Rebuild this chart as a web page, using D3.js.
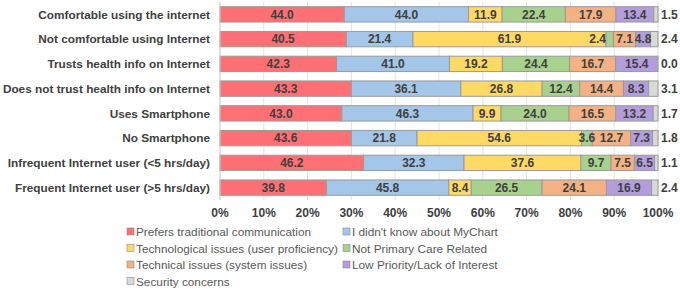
<!DOCTYPE html>
<html>
<head>
<meta charset="utf-8">
<script src="https://cdn.jsdelivr.net/npm/d3@7"></script>
<style>
  body { margin: 0; background: #fff; }
  svg text { font-family: "Liberation Sans", Arial, sans-serif; }
</style>
</head>
<body>
<div id="chart"></div>
<script>
// Data
const groups = [
    'Comfortable using the internet',
    'Not comfortable using Internet',
    'Trusts health info on Internet',
    'Does not trust health info on Internet',
    'Uses Smartphone',
    'No Smartphone',
    'Infrequent Internet user (<5 hrs/day)',
    'Frequent Internet user (>5 hrs/day)'
];
const reasons = [
    'Prefers traditional communication',
    "I didn't know about MyChart",
    'Technological issues (user proficiency)',
    'Not Primary Care Related',
    'Technical issues (system issues)',
    'Low Priority/Lack of Interest',
    'Security concerns'
];
const prefersTraditional = [44.0, 40.5, 42.3, 43.3, 43.0, 43.6, 46.2, 39.8];
const didntKnow          = [44.0, 21.4, 41.0, 36.1, 46.3, 21.8, 32.3, 45.8];
const techUser           = [11.9, 61.9, 19.2, 26.8, 9.9, 54.6, 37.6, 8.4];
const notPrimaryCare     = [22.4, 2.4, 24.4, 12.4, 24.0, 3.6, 9.7, 26.5];
const techSystem         = [17.9, 7.1, 16.7, 14.4, 16.5, 12.7, 7.5, 24.1];
const lowPriority        = [13.4, 4.8, 15.4, 8.3, 13.2, 7.3, 6.5, 16.9];
const security           = [1.5, 2.4, 0.0, 3.1, 1.7, 1.8, 1.1, 2.4];
const xTicks = [0, 0.1, 0.2, 0.3, 0.4, 0.5, 0.6, 0.7, 0.8, 0.9, 1];

const series = [prefersTraditional, didntKnow, techUser, notPrimaryCare, techSystem, lowPriority, security];
const colors = ['#FF7074', '#A4C6E8', '#FFD966', '#A9D18E', '#F4B183', '#B39DDB', '#D9D9D9'];

const width = 680, height = 293;
const margin = {top: 2, right: 22, bottom: 93, left: 220};

const svg = d3.select('#chart')
    .append('svg')
    .attr('width', width)
    .attr('height', height);

const x = d3.scaleLinear()
    .domain([0, 1])
    .range([margin.left, width - margin.right]);

const y = d3.scaleBand()
    .domain(groups)
    .range([margin.top, height - margin.bottom])
    .paddingInner(0.38)
    .paddingOuter(0.19);

// Gridlines
svg.append('g')
    .selectAll('line')
    .data(xTicks)
    .enter()
    .append('line')
    .attr('x1', d => x(d))
    .attr('x2', d => x(d))
    .attr('y1', margin.top)
    .attr('y2', height - margin.bottom)
    .attr('stroke', '#e3e3e3')
    .attr('stroke-width', 1);

// Build rows of stacked segments, normalised to 100%
const rows = groups.map((g, i) => {
    const vals = series.map(s => s[i]);
    const total = d3.sum(vals);
    let acc = 0;
    return vals.map((v, k) => {
        const seg = {group: g, k: k, value: v, x0: acc / total, x1: (acc + v) / total};
        acc += v;
        return seg;
    });
});
const segments = rows.flat();

svg.append('g')
    .selectAll('rect')
    .data(segments)
    .enter()
    .append('rect')
    .attr('x', d => x(d.x0))
    .attr('y', d => y(d.group))
    .attr('width', d => x(d.x1) - x(d.x0))
    .attr('height', y.bandwidth())
    .attr('fill', d => colors[d.k])
    .attr('stroke', '#9a9a9a')
    .attr('stroke-width', 1);

// Value labels (security shown outside, very narrow ones pushed left)
const narrow = d => x(d.x1) - x(d.x0) < 9;
svg.append('g')
    .selectAll('text')
    .data(segments)
    .enter()
    .append('text')
    .attr('x', d => d.k === 6 ? x(1) + 3 : narrow(d) ? x(d.x0) : (x(d.x0) + x(d.x1)) / 2)
    .attr('y', d => y(d.group) + y.bandwidth() / 2)
    .attr('dy', '0.36em')
    .attr('text-anchor', d => d.k === 6 ? 'start' : narrow(d) ? 'end' : 'middle')
    .style('font-size', '12px')
    .style('font-weight', 'bold')
    .style('fill', '#404040')
    .text(d => d.value.toFixed(1));

// Y axis line
svg.append('line')
    .attr('x1', x(0))
    .attr('x2', x(0))
    .attr('y1', margin.top)
    .attr('y2', height - margin.bottom)
    .attr('stroke', '#d0d0d0');

// Category labels
svg.append('g')
    .selectAll('text')
    .data(groups)
    .enter()
    .append('text')
    .attr('x', margin.left - 10)
    .attr('y', d => y(d) + y.bandwidth() / 2)
    .attr('dy', '0.36em')
    .attr('text-anchor', 'end')
    .style('font-size', '11.8px')
    .style('font-weight', 'bold')
    .style('fill', '#404040')
    .text(d => d);

// X tick labels
svg.append('g')
    .selectAll('text')
    .data(xTicks)
    .enter()
    .append('text')
    .attr('x', d => x(d))
    .attr('y', height - margin.bottom + 17)
    .attr('text-anchor', 'middle')
    .style('font-size', '12px')
    .style('font-weight', 'bold')
    .style('fill', '#404040')
    .text(d => d3.format('.0%')(d));

// Legend
const legend = svg.append('g')
    .attr('transform', `translate(127, 232)`);

const legendItems = legend.selectAll('.legend-item')
    .data(reasons)
    .enter()
    .append('g')
    .attr('class', 'legend-item')
    .attr('transform', (d, i) => `translate(${(i % 2) * 216}, ${Math.floor(i / 2) * 16.5})`);

legendItems.append('rect')
    .attr('x', 0)
    .attr('y', -4)
    .attr('width', 7)
    .attr('height', 7)
    .attr('fill', (d, i) => colors[i])
    .attr('stroke', '#8c8c8c')
    .attr('stroke-width', 0.6);

legendItems.append('text')
    .attr('x', 9)
    .attr('y', 0)
    .attr('dy', '0.36em')
    .style('font-size', '11.8px')
    .style('fill', '#595959')
    .text(d => d);
</script>
</body>
</html>
